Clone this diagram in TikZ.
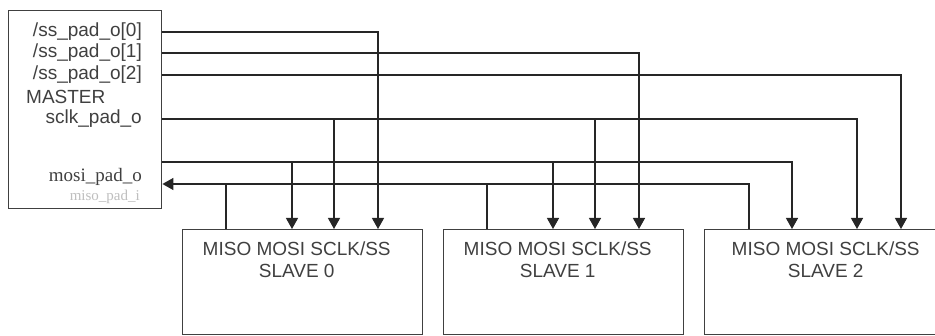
\documentclass[tikz,border=0pt]{standalone}
\usepackage{fontspec}
\setmainfont{Liberation Sans}
\newfontfamily\timesfont{Liberation Serif}
\usetikzlibrary{arrows.meta,positioning}

\tikzset{
  box/.style={draw=black!75, line width=1.4pt, fill=white, inner sep=0pt, anchor=north west},
  wire/.style={draw=black!85, line width=1.3pt},
  sig/.style={wire, -{Triangle[width=12pt,length=11pt]}},
  pin/.style={inner sep=0pt, text=black!75, font=\fontsize{19}{22}\selectfont},
  serifpin/.style={pin, font=\timesfont\fontsize{19}{22}\selectfont},
  slavetxt/.style={pin, align=center}
}

\begin{document}
\begin{tikzpicture}[x=1pt,y=-1pt]
    \path[use as bounding box, clip] (0,0) rectangle (935,336);

    % Master
    \node[box, minimum width=153pt, minimum height=198pt] (master) at (8,10) {};
    \node[pin, anchor=east] (ss0) at (142,32) {/ss\_pad\_o[0]};
    \node[pin, anchor=east] (ss1) at (142,53) {/ss\_pad\_o[1]};
    \node[pin, anchor=east] (ss2) at (142,75) {/ss\_pad\_o[2]};
    \node[pin, anchor=west] (mname) at (26,97) {MASTER};
    \node[pin, anchor=east] (sclk) at (142,119) {sclk\_pad\_o};
    \node[serifpin, anchor=east] (mosi) at (142,177) {mosi\_pad\_o};
    \node[serifpin, anchor=east, text=black!25, font=\timesfont\fontsize{15}{17}\selectfont] (miso) at (140,197) {miso\_pad\_i};

    % Slaves
    \node[box, minimum width=240pt, minimum height=105pt] (s0) at (182,229) {};
    \node[box, minimum width=240pt, minimum height=105pt] (s1) at (443,229) {};
    \node[box, minimum width=240pt, minimum height=105pt] (s2) at (704,229) {};
    \node[slavetxt, below=13pt of s0.north, xshift=-6pt] (s0txt) {MISO MOSI SCLK/SS\\SLAVE 0};
    \node[slavetxt, below=13pt of s1.north, xshift=-6pt] (s1txt) {MISO MOSI SCLK/SS\\SLAVE 1};
    \node[slavetxt, below=13pt of s2.north, xshift=1pt] (s2txt) {MISO MOSI SCLK/SS\\SLAVE 2};

    % Slave pins
    \coordinate (s0miso) at (226,229);
    \coordinate (s0mosi) at (292,229);
    \coordinate (s0sclk) at (334,229);
    \coordinate (s0ss) at (378,229);
    \coordinate (s1miso) at (487,229);
    \coordinate (s1mosi) at (553,229);
    \coordinate (s1sclk) at (595,229);
    \coordinate (s1ss) at (639,229);
    \coordinate (s2miso) at (749,229);
    \coordinate (s2mosi) at (792,229);
    \coordinate (s2sclk) at (857,229);
    \coordinate (s2ss) at (901,229);

    % Bus heights
    \coordinate (mosiy) at (0,162);
    \coordinate (misoy) at (0,184);

    % Slave selects
    \draw[sig] (master.east |- ss0) -| (s0ss);
    \draw[sig] (master.east |- ss1) -| (s1ss);
    \draw[sig] (master.east |- ss2) -| (s2ss);

    % Clock
    \draw[sig] (master.east |- sclk) -| (s2sclk);
    \draw[sig] (s0sclk |- sclk) -- (s0sclk);
    \draw[sig] (s1sclk |- sclk) -- (s1sclk);

    % MOSI
    \draw[sig] (master.east |- mosiy) -| (s2mosi);
    \draw[sig] (s0mosi |- mosiy) -- (s0mosi);
    \draw[sig] (s1mosi |- mosiy) -- (s1mosi);

    % MISO
    \draw[sig] (s2miso) |- (master.east |- misoy);
    \draw[wire] (s0miso) -- (s0miso |- misoy);
    \draw[wire] (s1miso) -- (s1miso |- misoy);
\end{tikzpicture}
\end{document}
